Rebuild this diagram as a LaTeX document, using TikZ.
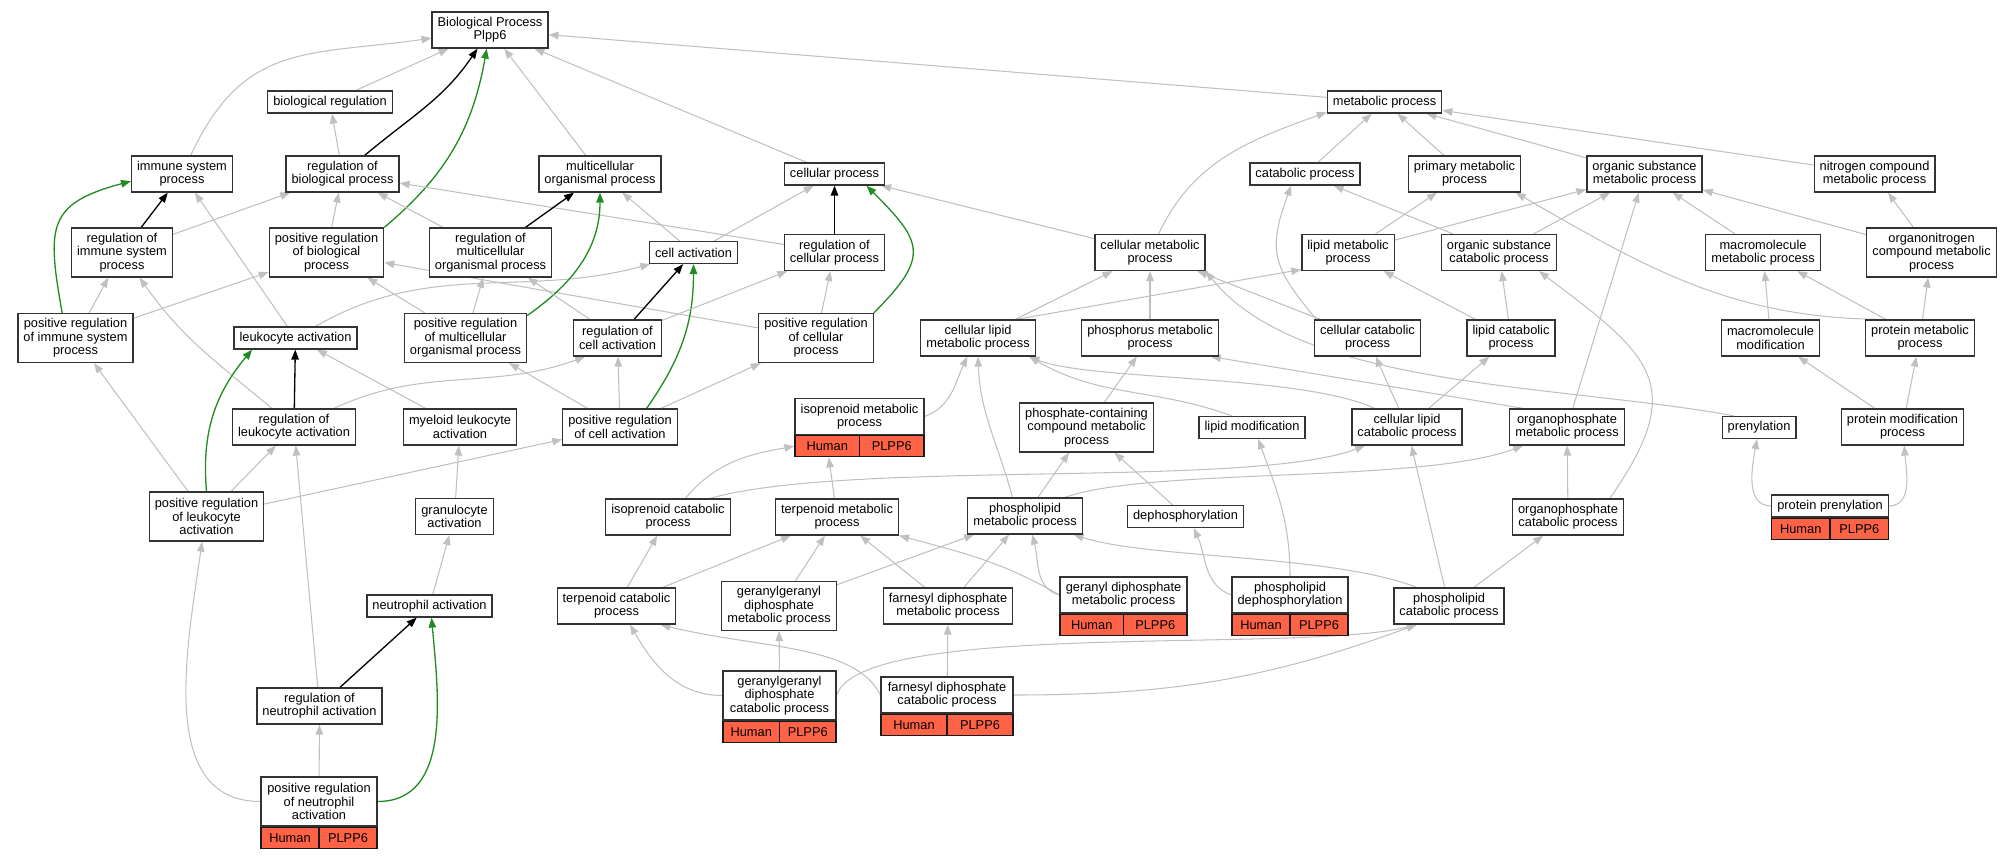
\documentclass[tikz,border=0pt]{standalone}
\usepackage{fontspec}
\setmainfont{Liberation Sans}
\usetikzlibrary{arrows.meta,backgrounds}
\definecolor{tomato}{RGB}{255,99,71}
\definecolor{forestgreen}{RGB}{34,139,34}
\definecolor{edgegray}{RGB}{192,192,192}
\begin{document}
\begin{tikzpicture}[x=0.02cm,y=0.02cm]
\tikzset{term/.style={draw=black!80, line width=0.7pt, fill=white, align=center, font={\fontsize{7.3}{7.6}\selectfont}, inner xsep=0.11cm, inner ysep=1pt},
term1/.style={term, minimum height=0.44cm},
term2/.style={term, minimum height=0.72cm},
term3/.style={term, minimum height=0.98cm},
gene/.style={draw=black!90, line width=0.7pt, fill=tomato, font={\fontsize{7.3}{7.6}\selectfont}, minimum height=0.42cm, inner sep=0pt},
isa/.style={draw=edgegray, line width=0.6pt, -{Triangle[length=0.2cm,width=0.15cm]}},
reg/.style={draw=black, line width=0.75pt, -{Triangle[length=0.2cm,width=0.15cm]}},
preg/.style={draw=forestgreen, line width=0.75pt, -{Triangle[length=0.2cm,width=0.15cm]}}}
\useasboundingbox (0,0) rectangle (2013,859);
\node[term2] (BP) at (490,829) {Biological Process\\Plpp6};
\node[term1] (BR) at (330,757) {biological regulation};
\node[term2] (ISP) at (182,685) {immune system\\process};
\node[term2] (RBP) at (342.5,685) {regulation of\\biological process};
\node[term2] (MOP) at (600,685) {multicellular\\organismal process};
\node[term1] (CP) at (834.5,685) {cellular process};
\node[term1] (MP) at (1384.5,757) {metabolic process};
\node[term1] (CatP) at (1305,685) {catabolic process};
\node[term2] (PMP) at (1464.5,685) {primary metabolic\\process};
\node[term2] (OSMP) at (1644.5,685) {organic substance\\metabolic process};
\node[term2] (NCMP) at (1874.5,685) {nitrogen compound\\metabolic process};
\node[term3] (RISP) at (122,606.5) {regulation of\\immune system\\process};
\node[term3] (PRBP) at (326.5,606.5) {positive regulation\\of biological\\process};
\node[term3] (RMOP) at (490.5,606.5) {regulation of\\multicellular\\organismal process};
\node[term1] (CA) at (693.5,606.5) {cell activation};
\node[term2] (RCP) at (834.5,606.5) {regulation of\\cellular process};
\node[term2] (CMP) at (1150,606.5) {cellular metabolic\\process};
\node[term2] (LMP) at (1348,606.5) {lipid metabolic\\process};
\node[term2] (OSCP) at (1499,606.5) {organic substance\\catabolic process};
\node[term2] (MMP) at (1763,606.5) {macromolecule\\metabolic process};
\node[term3] (ONCMP) at (1931.5,606.5) {organonitrogen\\compound metabolic\\process};
\node[term3] (PRISP) at (75.5,521) {positive regulation\\of immune system\\process};
\node[term1] (LA) at (295.5,521) {leukocyte activation};
\node[term3] (PRMOP) at (465.5,521) {positive regulation\\of multicellular\\organismal process};
\node[term2] (RCA) at (617.5,521) {regulation of\\cell activation};
\node[term3] (PRCP) at (816,521) {positive regulation\\of cellular\\process};
\node[term2] (CLMP) at (978,521) {cellular lipid\\metabolic process};
\node[term2] (PhMP) at (1150,521) {phosphorus metabolic\\process};
\node[term2] (CCP) at (1367.5,521) {cellular catabolic\\process};
\node[term2] (LCP) at (1511,521) {lipid catabolic\\process};
\node[term2] (MM) at (1770.5,521) {macromolecule\\modification};
\node[term2] (PrMP) at (1920,521) {protein metabolic\\process};
\node[term2] (RLA) at (294,432) {regulation of\\leukocyte activation};
\node[term2] (MLA) at (460,432) {myeloid leukocyte\\activation};
\node[term2] (PRCA) at (620,432) {positive regulation\\of cell activation};
\node[term2, minimum width=2.58cm] (IMP) at (859.5,442.5) {isoprenoid metabolic\\process};
\node[gene, minimum width=1.29cm, anchor=north west] (IMPh) at (IMP.south west) {Human};
\node[gene, minimum width=1.29cm, anchor=north east] (IMPg) at (IMP.south east) {PLPP6};
\node[term3] (PCCMP) at (1086.5,431.5) {phosphate-containing\\compound metabolic\\process};
\node[term1] (LM) at (1252,431.5) {lipid modification};
\node[term2] (CLCP) at (1407,432) {cellular lipid\\catabolic process};
\node[term2] (OPMP) at (1567,432) {organophosphate\\metabolic process};
\node[term1] (Pren) at (1759,431.5) {prenylation};
\node[term2] (PMoP) at (1902.5,432) {protein modification\\process};
\node[term3] (PRLA) at (206.5,342.5) {positive regulation\\of leukocyte\\activation};
\node[term2] (GA) at (454.5,342.5) {granulocyte\\activation};
\node[term2] (ICP) at (668,342) {isoprenoid catabolic\\process};
\node[term2] (TMP) at (837,342) {terpenoid metabolic\\process};
\node[term2] (PLMP) at (1025,343) {phospholipid\\metabolic process};
\node[term1] (Deph) at (1185.5,342.5) {dephosphorylation};
\node[term2] (OPCP) at (1568,342) {organophosphate\\catabolic process};
\node[term1, minimum width=2.32cm] (PP) at (1830,353) {protein prenylation};
\node[gene, minimum width=1.16cm, anchor=north west] (PPh) at (PP.south west) {Human};
\node[gene, minimum width=1.16cm, anchor=north east] (PPg) at (PP.south east) {PLPP6};
\node[term1] (NA) at (429.5,253) {neutrophil activation};
\node[term2] (TCP) at (616.5,253) {terpenoid catabolic\\process};
\node[term3] (GGDMP) at (779,253) {geranylgeranyl\\diphosphate\\metabolic process};
\node[term2] (FDMP) at (948,253) {farnesyl diphosphate\\metabolic process};
\node[term2, minimum width=2.54cm] (GDMP) at (1123.5,264) {geranyl diphosphate\\metabolic process};
\node[gene, minimum width=1.27cm, anchor=north west] (GDMPh) at (GDMP.south west) {Human};
\node[gene, minimum width=1.27cm, anchor=north east] (GDMPg) at (GDMP.south east) {PLPP6};
\node[term2, minimum width=2.32cm] (PD) at (1290,264) {phospholipid\\dephosphorylation};
\node[gene, minimum width=1.16cm, anchor=north west] (PDh) at (PD.south west) {Human};
\node[gene, minimum width=1.16cm, anchor=north east] (PDg) at (PD.south east) {PLPP6};
\node[term2] (PLCP) at (1449,253) {phospholipid\\catabolic process};
\node[term2] (RNA) at (319.5,153) {regulation of\\neutrophil activation};
\node[term3, minimum width=2.26cm] (GGDCP) at (779.5,163.5) {geranylgeranyl\\diphosphate\\catabolic process};
\node[gene, minimum width=1.13cm, anchor=north west] (GGDCPh) at (GGDCP.south west) {Human};
\node[gene, minimum width=1.13cm, anchor=north east] (GGDCPg) at (GGDCP.south east) {PLPP6};
\node[term2, minimum width=2.64cm] (FDCP) at (947,164) {farnesyl diphosphate\\catabolic process};
\node[gene, minimum width=1.32cm, anchor=north west] (FDCPh) at (FDCP.south west) {Human};
\node[gene, minimum width=1.32cm, anchor=north east] (FDCPg) at (FDCP.south east) {PLPP6};
\node[term3, minimum width=2.32cm] (PRNA) at (319,57.5) {positive regulation\\of neutrophil\\activation};
\node[gene, minimum width=1.16cm, anchor=north west] (PRNAh) at (PRNA.south west) {Human};
\node[gene, minimum width=1.16cm, anchor=north east] (PRNAg) at (PRNA.south east) {PLPP6};
\begin{scope}[on background layer]
\draw[isa] (ISP) to[out=65,in=188,looseness=1.2] (BP);
\draw[isa] (BR) -- (BP);
\draw[reg] (RBP) to[out=40,in=-124] (BP);
\draw[preg] (PRBP.north east) to[out=40,in=-100] (BP);
\draw[isa] (MOP) -- (BP);
\draw[isa] (CP) -- (BP);
\draw[isa] (MP) -- (BP);
\draw[isa] (RBP) -- (BR);
\draw[reg] (RISP) -- (ISP);
\draw[isa] (RISP) -- (RBP);
\draw[isa] (LA) -- (ISP);
\draw[preg] (PRISP.118) to[out=100,in=195,looseness=1.5] (ISP.188);
\draw[isa] (PRBP) -- (RBP);
\draw[isa] (RMOP) -- (RBP);
\draw[isa] (RCP) -- (RBP);
\draw[isa] (PRISP) -- (RISP);
\draw[isa] (PRISP) -- (PRBP);
\draw[isa] (RLA) to[out=140,in=-55] (RISP.-55);
\draw[isa] (LA) to[out=30,in=195] (CA);
\draw[isa] (PRMOP) -- (RMOP);
\draw[isa] (PRCP) -- (PRBP);
\draw[isa] (PRMOP) -- (PRBP);
\draw[reg] (RMOP) -- (MOP);
\draw[preg] (PRMOP.20) to[out=35,in=-90] (MOP.south);
\draw[isa] (CA) -- (MOP);
\draw[isa] (CA) -- (CP);
\draw[reg] (RCP) -- (CP);
\draw[preg] (PRCP.north east) to[out=45,in=-45,looseness=1.6] (CP.-20);
\draw[isa] (CMP) -- (CP);
\draw[reg] (RLA) -- (LA);
\draw[preg] (PRLA.north) to[out=95,in=-130] (LA.-165);
\draw[isa] (MLA) -- (LA);
\draw[isa] (RLA.25) to[out=25,in=-160] (RCA.-150);
\draw[reg] (RCA) -- (CA);
\draw[preg] (PRCA.35) to[out=55,in=-90] (CA.south);
\draw[isa] (RCA) -- (RCP);
\draw[isa] (PRCP) -- (RCP);
\draw[isa] (PRCA) -- (RCA);
\draw[isa] (PRCA) -- (PRCP);
\draw[isa] (PRCA) -- (PRMOP);
\draw[isa] (RCA) -- (RMOP);
\draw[isa] (PRLA) -- (PRISP);
\draw[isa] (PRLA) -- (RLA);
\draw[isa] (PRLA) -- (PRCA);
\draw[isa] (GA) -- (MLA);
\draw[isa] (NA) -- (GA);
\draw[reg] (RNA) -- (NA);
\draw[isa] (RNA) -- (RLA);
\draw[isa] (PRNA) -- (RNA);
\draw[preg] (PRNA.east) to[out=0,in=-85] (NA.-80);
\draw[isa] (PRNA.west) to[out=180,in=-98] (PRLA.-100);
\draw[isa] (CatP) -- (MP);
\draw[isa] (PMP) -- (MP);
\draw[isa] (OSMP) -- (MP);
\draw[isa] (NCMP) -- (MP);
\draw[isa] (CMP) to[out=65,in=200] (MP.-170);
\draw[isa] (CCP.160) to[out=130,in=-110,looseness=1.3] (CatP.-140);
\draw[isa] (OSCP) -- (CatP);
\draw[isa] (LMP) -- (PMP);
\draw[isa] (LMP) -- (OSMP);
\draw[isa] (OSCP) -- (OSMP);
\draw[isa] (MMP) -- (OSMP);
\draw[isa] (ONCMP) -- (OSMP);
\draw[isa] (ONCMP) -- (NCMP);
\draw[isa] (PrMP.150) to[out=180,in=-30] (PMP.-20);
\draw[isa] (PrMP) -- (MMP);
\draw[isa] (PrMP) -- (ONCMP);
\draw[isa] (MM) -- (MMP);
\draw[isa] (PMoP) -- (MM);
\draw[isa] (PMoP) -- (PrMP);
\draw[isa] (PP) to[out=180,in=-100] (Pren);
\draw[isa] (PP) to[out=0,in=-85] (PMoP);
\draw[isa] (Pren.155) .. controls (1560,475) and (1300,470) .. (CMP.south east);
\draw[isa] (CLMP.26) -- (LMP.200);
\draw[isa] (CLMP) -- (CMP);
\draw[isa] (PhMP) -- (CMP);
\draw[isa] (CCP) -- (CMP);
\draw[isa] (LCP) -- (LMP);
\draw[isa] (LCP) -- (OSCP);
\draw[isa] (CLCP) -- (CCP);
\draw[isa] (CLCP) -- (LCP);
\draw[isa] (CLCP.150) .. controls (1300,485) and (1090,478) .. (CLMP.-20);
\draw[isa] (LM.150) to[out=160,in=-30] (CLMP.-20);
\draw[isa] (OPMP.157) -- (PhMP.-17);
\draw[isa] (OPMP) -- (OSMP);
\draw[isa] (PCCMP) -- (PhMP);
\draw[isa] (IMP.east) to[out=20,in=-115] (CLMP.-120);
\draw[isa] (PLMP.124) to[out=105,in=-88] (CLMP.south);
\draw[isa] (PLMP) -- (PCCMP);
\draw[isa] (PLMP.25) .. controls (1150,392) and (1420,375) .. (OPMP.-157);
\draw[isa] (ICP.24) .. controls (850,400) and (1250,370) .. (CLCP.-156);
\draw[isa] (ICP.47) to[out=50,in=190] (IMPh.west);
\draw[isa] (TMP) -- (IMPh);
\draw[isa] (TCP) -- (ICP);
\draw[isa] (TCP) -- (TMP);
\draw[isa] (GGDMP) -- (TMP);
\draw[isa] (GGDMP) -- (PLMP);
\draw[isa] (FDMP) -- (TMP);
\draw[isa] (FDMP) -- (PLMP);
\draw[isa] (GDMP.west) to[out=150,in=-15] (TMP.south east);
\draw[isa] (GDMP.west) to[out=165,in=-75] (PLMP.-69);
\draw[isa] (Deph) -- (PCCMP);
\draw[isa] (PD.west) to[out=160,in=-65] (Deph.-55);
\draw[isa] (PD.north) to[out=90,in=-70] (LM.-62);
\draw[isa] (PLCP.150) .. controls (1330,305) and (1150,300) .. (PLMP.-21);
\draw[isa] (PLCP) -- (CLCP);
\draw[isa] (PLCP) -- (OPCP);
\draw[isa] (OPCP) -- (OPMP);
\draw[isa] (OPCP.24) to[out=55,in=-37,looseness=1.5] (OSCP.-25);
\draw[isa] (GGDCP.east) .. controls (860,240) and (1300,205) .. (PLCP.-150);
\draw[isa] (FDCP.east) to[out=0,in=-160] (PLCP.-150);
\draw[isa] (GGDCP) -- (GGDMP);
\draw[isa] (GGDCP.west) to[out=180,in=-60] (TCP.-54);
\draw[isa] (FDCP.west) .. controls (855,215) and (760,210) .. (TCP.-23);
\draw[isa] (FDCP) -- (FDMP);
\end{scope}
\end{tikzpicture}
\end{document}
